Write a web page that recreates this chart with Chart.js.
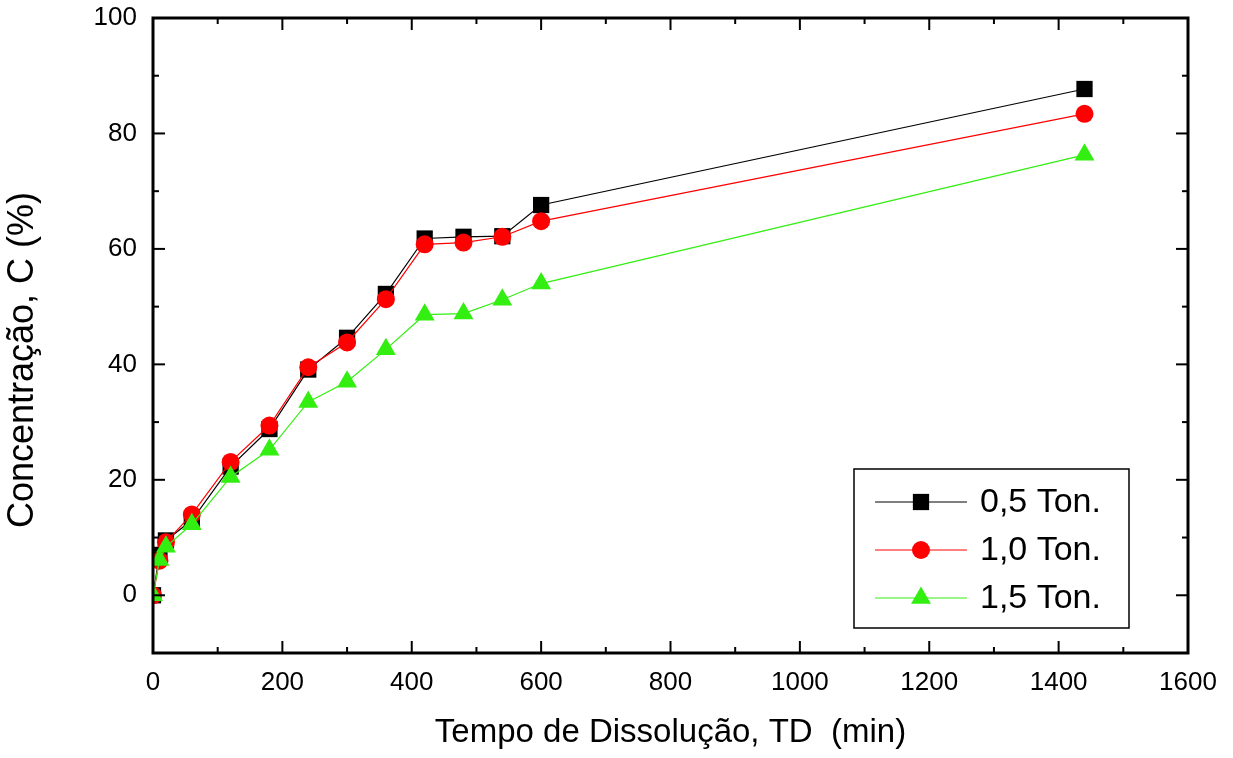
<!DOCTYPE html>
<html>
<head>
<meta charset="utf-8">
<script src="https://cdn.jsdelivr.net/npm/chart.js@4.4.0/dist/chart.umd.min.js"></script>
<style>
  html, body { margin: 0; padding: 0; background: #fff; }
  #wrap { width: 1233px; height: 758px; }
</style>
</head>
<body>
<div id="wrap"><canvas id="chart" width="1233" height="758"></canvas></div>
<script>
// Tempo de dissolução (min)
const tempos = [0, 10, 20, 60, 120, 180, 240, 300, 360, 420, 480, 540, 600, 1440];
// Concentração (%) para cada tonelagem
const ton05 = [0, 7.0, 9.5, 13.0, 22.3, 28.8, 39.1, 44.6, 52.2, 61.8, 62.1, 62.2, 67.6, 87.7];
const ton10 = [0, 6.0, 9.2, 14.0, 23.1, 29.4, 39.5, 43.8, 51.3, 60.8, 61.1, 62.1, 64.8, 83.4];
const ton15 = [0, 6.1, 8.4, 12.3, 20.5, 25.2, 33.5, 37.0, 42.6, 48.6, 48.8, 51.2, 54.0, 76.3];
const nomes = ['0,5 Ton.', '1,0 Ton.', '1,5 Ton.'];
const xTicks = [0, 200, 400, 600, 800, 1000, 1200, 1400, 1600];
const yTicks = [0, 20, 40, 60, 80, 100];

const FONTE = 'Arial, "Liberation Sans", Helvetica, sans-serif';
Chart.defaults.font.family = FONTE;
Chart.defaults.color = '#000';

const pontos = (ys) => tempos.map((t, i) => ({ x: t, y: ys[i] }));

// desenha um marcador simples (usado na legenda)
function marcador(ctx, estilo, r, x, y, cor) {
    ctx.fillStyle = cor;
    ctx.beginPath();
    if (estilo === 'rect') {
        const s = r / Math.SQRT2;
        ctx.rect(x - s, y - s, 2 * s, 2 * s);
    } else if (estilo === 'circle') {
        ctx.arc(x, y, r, 0, Math.PI * 2);
    } else {
        for (let k = 0; k < 3; k++) {
            const a = k * 2 * Math.PI / 3;
            const px = x + Math.sin(a) * r, py = y - Math.cos(a) * r;
            k === 0 ? ctx.moveTo(px, py) : ctx.lineTo(px, py);
        }
        ctx.closePath();
    }
    ctx.fill();
}

// moldura com ticks para dentro nos quatro lados
const moldura = {
    id: 'moldura',
    afterDatasetsDraw(chart) {
        const { ctx, chartArea: a, scales: { x, y } } = chart;
        ctx.save();
        ctx.strokeStyle = '#000';
        ctx.lineWidth = 2;
        const seg = (x1, y1, x2, y2) => { ctx.beginPath(); ctx.moveTo(x1, y1); ctx.lineTo(x2, y2); ctx.stroke(); };
        const passoX = (xTicks[1] - xTicks[0]) / 2;
        for (let v = x.min; v <= x.max; v += passoX) {
            const px = x.getPixelForValue(v);
            const len = (v % (passoX * 2) === 0) ? 12 : 6;
            seg(px, a.bottom, px, a.bottom - len);
            seg(px, a.top, px, a.top + len);
        }
        const passoY = (yTicks[1] - yTicks[0]) / 2;
        for (let v = y.min; v <= y.max; v += passoY) {
            const py = y.getPixelForValue(v);
            const len = (v % (passoY * 2) === 0) ? 12 : 6;
            seg(a.left, py, a.left + len, py);
            seg(a.right, py, a.right - len, py);
        }
        ctx.lineWidth = 3;
        ctx.strokeRect(a.left, a.top, a.right - a.left, a.bottom - a.top);
        ctx.restore();
    },
    afterDraw(chart) {
        const { ctx } = chart;
        ctx.save();
        // título do eixo Y
        ctx.fillStyle = '#000';
        ctx.font = '36px ' + FONTE;
        ctx.textAlign = 'center';
        ctx.textBaseline = 'middle';
        ctx.translate(23, 360);
        ctx.rotate(-Math.PI / 2);
        ctx.fillText('Concentração, C (%)', 0, 0);
        ctx.restore();

        // legenda
        ctx.save();
        ctx.strokeStyle = '#000';
        ctx.lineWidth = 1.5;
        ctx.strokeRect(854, 469, 275, 159);
        const ds = chart.data.datasets;
        ctx.font = '34px ' + FONTE;
        ctx.textBaseline = 'middle';
        ctx.textAlign = 'left';
        ds.forEach((d, i) => {
            const yy = 502 + i * 48;
            ctx.strokeStyle = d.borderColor;
            ctx.lineWidth = 1;
            ctx.beginPath();
            ctx.moveTo(875, yy);
            ctx.lineTo(967, yy);
            ctx.stroke();
            marcador(ctx, d.pointStyle, d.pointRadius, 921, yy, d.pointBackgroundColor);
            ctx.fillStyle = '#000';
            ctx.fillText(d.label, 980, yy + 1);
        });
        ctx.restore();
    }
};

new Chart(document.getElementById('chart'), {
    type: 'line',
    data: {
        datasets: [
            {
                label: nomes[0], data: pontos(ton05), order: 3,
                borderColor: '#000000', pointBackgroundColor: '#000000',
                pointStyle: 'rect', pointRadius: 11.5
            },
            {
                label: nomes[1], data: pontos(ton10), order: 2,
                borderColor: '#ff0000', pointBackgroundColor: '#ff0000',
                pointStyle: 'circle', pointRadius: 9
            },
            {
                label: nomes[2], data: pontos(ton15), order: 1,
                borderColor: '#33ee11', pointBackgroundColor: '#33ee11',
                pointStyle: 'triangle', pointRadius: 11.5
            }
        ].map(d => Object.assign(d, {
            borderWidth: 1.2, tension: 0, pointBorderWidth: 0, clip: 0, fill: false
        }))
    },
    options: {
        responsive: false,
        animation: false,
        devicePixelRatio: 1,
        layout: { padding: { left: 0, top: 18, right: 45, bottom: 0 } },
        plugins: { legend: { display: false }, tooltip: { enabled: false } },
        scales: {
            x: {
                type: 'linear', min: 0, max: 1600,
                afterBuildTicks: (ax) => { ax.ticks = xTicks.map(v => ({ value: v })); },
                afterFit: (ax) => { ax.height = 105; ax.paddingLeft = 0; ax.paddingRight = 0; },
                grid: { display: false, drawTicks: false },
                border: { display: false },
                ticks: { padding: 14, font: { size: 26 }, color: '#000', maxRotation: 0, callback: (v) => String(v) },
                title: {
                    display: true, text: 'Tempo de Dissolução, TD  (min)',
                    font: { size: 33 }, color: '#000', padding: { top: 0, bottom: 5 }
                }
            },
            y: {
                type: 'linear', min: -10, max: 100,
                afterBuildTicks: (ax) => { ax.ticks = yTicks.map(v => ({ value: v })); },
                afterFit: (ax) => { ax.width = 153; ax.paddingTop = 0; ax.paddingBottom = 0; },
                grid: { display: false, drawTicks: false },
                border: { display: false },
                ticks: { padding: 16, font: { size: 26 }, color: '#000', callback: (v) => String(v) }
            }
        }
    },
    plugins: [moldura]
});
</script>
</body>
</html>
